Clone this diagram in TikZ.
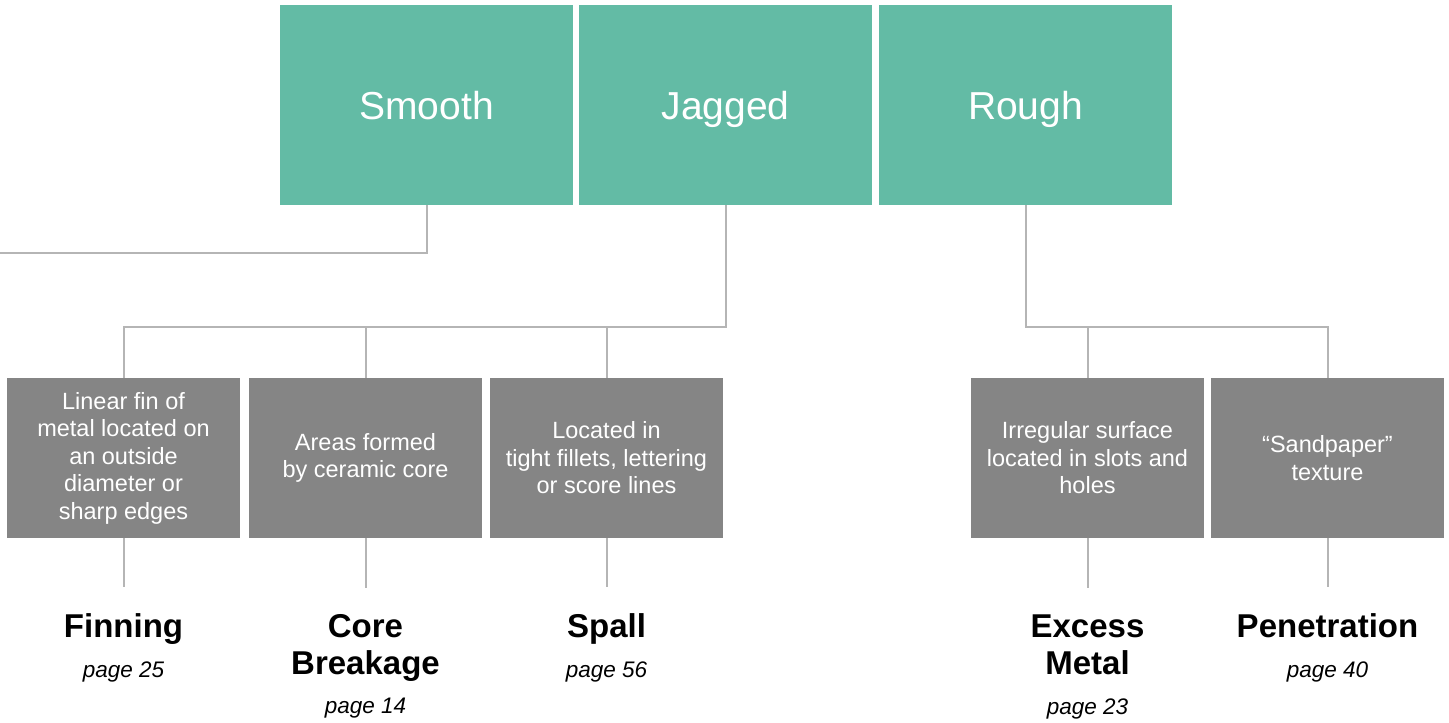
\documentclass[tikz,border=0pt]{standalone}
\usepackage{fontspec}
\setmainfont{Liberation Sans}
\usetikzlibrary{positioning}
\definecolor{tealbox}{HTML}{63BBA5}
\definecolor{greybox}{HTML}{858585}
\definecolor{linkgrey}{HTML}{B5B5B5}

\begin{document}
\begin{tikzpicture}
  [
    x=1pt, y=-1pt,
    surface/.style = {rectangle, fill=tealbox, text=white, minimum width=293pt, minimum height=200pt, inner sep=0pt, font=\fontsize{39}{47}\selectfont, text height=28pt, text depth=0pt},
    descr/.style   = {rectangle, fill=greybox, text=white, minimum width=233pt, minimum height=160pt, inner sep=0pt, align=center, font=\fontsize{23.5}{27.5}\selectfont},
    defect/.style  = {inner sep=0pt, anchor=base, align=center, text depth=7pt, font=\fontsize{33}{37}\selectfont\bfseries},
    pagenum/.style = {inner sep=0pt, font=\fontsize{22.5}{27}\selectfont\itshape},
    link/.style    = {draw=linkgrey, line width=2pt},
  ]

  \useasboundingbox (0,0) rectangle (1449,723);

  % the bus heights
  \def\smoothy{253}
  \def\busy{327}
  \def\gap{17pt}

  % surface types
  \node (smooth) at (426.5,105) [surface] {Smooth};
  \node (jagged) at (725.5,105) [surface] {Jagged};
  \node (rough)  at (1025.5,105) [surface] {Rough};

  % descriptions
  \node (finbox)    at (123.5,458)  [descr] {Linear fin of\\metal located on\\an outside\\diameter or\\sharp edges};
  \node (corebox)   at (365.5,458)  [descr] {Areas formed\\by ceramic core};
  \node (spallbox)  at (606.5,458)  [descr] {Located in\\tight fillets, lettering\\or score lines};
  \node (excessbox) at (1087.5,458) [descr] {Irregular surface\\located in slots and\\holes};
  \node (penbox)    at (1327.5,458) [descr] {``Sandpaper''\\texture};

  % defects (base = last line)
  \node (finning)     at (123.5,637)  [defect] {Finning};
  \node (corebreak)   at (365.5,674)  [defect] {Core\\Breakage};
  \node (spall)       at (606.5,637)  [defect] {Spall};
  \node (excess)      at (1087.5,674) [defect] {Excess\\Metal};
  \node (penetration) at (1327.5,637) [defect] {Penetration};

  \node (finpage)    [pagenum, below=\gap of finning]     {page 25};
  \node (corepage)   [pagenum, below=\gap of corebreak]   {page 14};
  \node (spallpage)  [pagenum, below=\gap of spall]       {page 56};
  \node (excesspage) [pagenum, below=\gap of excess]      {page 23};
  \node (penpage)    [pagenum, below=\gap of penetration] {page 40};

  % connectors
  \coordinate (smoothend) at (0,\smoothy);
  \draw [link] (smooth.south) |- (smoothend);

  \draw [link] (jagged.south) -- (jagged.south |- 0,\busy) -| (finbox.north);
  \draw [link] (corebox.north) -- (corebox.north |- 0,\busy);
  \draw [link] (spallbox.north) -- (spallbox.north |- 0,\busy);

  \draw [link] (rough.south) -- (rough.south |- 0,\busy) -| (penbox.north);
  \draw [link] (excessbox.north) -- (excessbox.north |- 0,\busy);

  \draw [link, shorten >=26pt] (finbox.south) -- (finning.north);
  \draw [link, shorten >=26pt] (corebox.south) -- (corebreak.north);
  \draw [link, shorten >=26pt] (spallbox.south) -- (spall.north);
  \draw [link, shorten >=26pt] (excessbox.south) -- (excess.north);
  \draw [link, shorten >=26pt] (penbox.south) -- (penetration.north);

\end{tikzpicture}
\end{document}
